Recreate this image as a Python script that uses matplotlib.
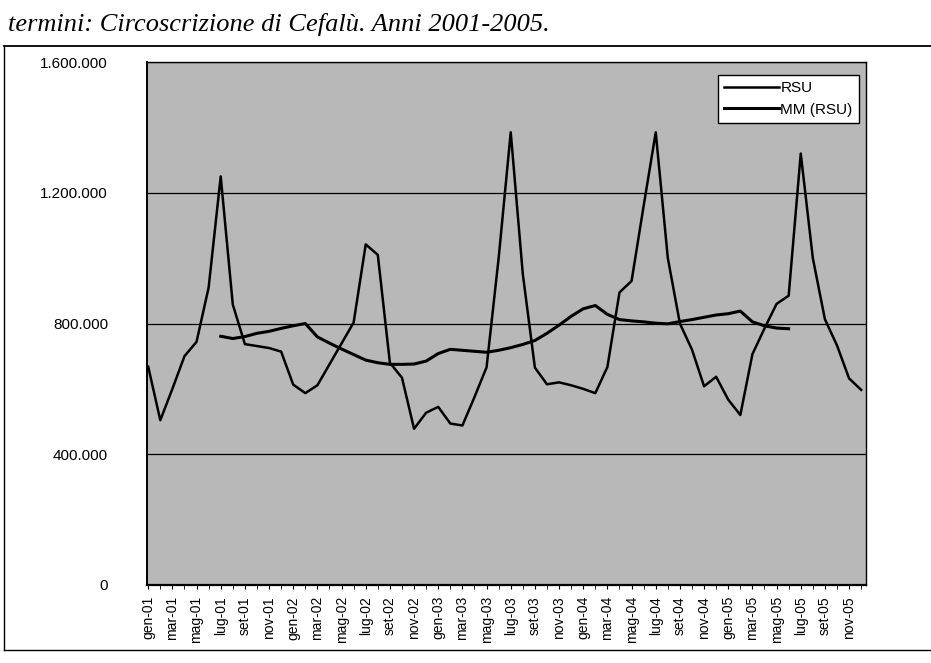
import numpy as np
import matplotlib
matplotlib.use('Agg')
import matplotlib.pyplot as plt
from matplotlib.lines import Line2D
from matplotlib.ticker import FuncFormatter

# month labels (Italian) gen-01 ... dic-05
months = ['gen', 'feb', 'mar', 'apr', 'mag', 'giu', 'lug', 'ago', 'set', 'ott', 'nov', 'dic']
years = ['01', '02', '03', '04', '05']
labels = [f"{m}-{y}" for y in years for m in months]

# RSU monthly values (kg)
rsu_2001 = [668000, 504000, 600000, 700000, 744000, 910000, 1250000, 858000, 737000, 731000, 725000, 714000]
rsu_2002 = [613000, 587000, 611000, 675000, 739000, 803000, 1042000, 1010000, 680000, 634000, 478000, 527000]
rsu_2003 = [545000, 494000, 488000, 575000, 666000, 1000000, 1385000, 951000, 665000, 614000, 620000, 611000]
rsu_2004 = [600000, 587000, 667000, 895000, 930000, 1160000, 1385000, 1000000, 800000, 720000, 608000, 637000]
rsu_2005 = [567000, 520000, 706000, 785000, 860000, 885000, 1320000, 1000000, 813000, 733000, 632000, 597000]
rsu = rsu_2001 + rsu_2002 + rsu_2003 + rsu_2004 + rsu_2005

# moving average MM (RSU), from lug-01 to giu-05
mm_start = 6
mm = [761000, 754000, 760000, 770000, 776000, 785000,
      793000, 800000, 759000, 740000, 722000, 705000,
      688000, 680000, 675000, 675000, 676000, 685000,
      708000, 721000, 718000, 715000, 712000, 718000,
      726000, 736000, 748000, 770000, 795000, 822000,
      845000, 855000, 828000, 812000, 808000, 805000,
      801000, 799000, 806000, 812000, 819000, 826000,
      830000, 838000, 805000, 793000, 786000, 784000]

yticks = [0, 400000, 800000, 1200000, 1600000]

W, H = 931, 663
fig = plt.figure(figsize=(W / 100, H / 100), dpi=100)
fig.patch.set_facecolor('white')

# title fragment at the top of the scanned page
fig.text(8 / W, 1 - 31 / H, "termini: Circoscrizione di Cefalù. Anni 2001-2005.",
         family='Liberation Serif', style='italic', fontsize=19, va='baseline', ha='left')

# chart area border
fig.add_artist(Line2D([4 / W, 1.0], [1 - 46 / H] * 2, transform=fig.transFigure, color='black', lw=1.3))
fig.add_artist(Line2D([4 / W] * 2, [1 - 46 / H, 1 - 650 / H], transform=fig.transFigure, color='black', lw=1.0))
fig.add_artist(Line2D([4 / W, 1.0], [1 - 650 / H] * 2, transform=fig.transFigure, color='black', lw=1.0))

ax = fig.add_axes([147 / W, 1 - 585 / H, 719 / W, 523 / H])
ax.set_facecolor('#b8b8b8')

x = np.arange(len(rsu))
ax.plot(x, rsu, color='black', lw=1.8, label='RSU', zorder=3)
ax.plot(np.arange(mm_start, mm_start + len(mm)), mm, color='black', lw=2.2, label='MM (RSU)', zorder=3)

ax.set_xlim(-0.1, 59.4)
ax.set_ylim(0, 1600000)
ax.set_yticks(yticks)
ax.yaxis.set_major_formatter(FuncFormatter(lambda v, p: f"{int(v):,}".replace(',', '.')))
ax.grid(axis='y', color='black', lw=0.9)
ax.set_axisbelow(True)

ax.set_xticks(x[::2])
ax.set_xticklabels(labels[::2], rotation=90)
ax.set_xticks(x, minor=True)

for lab in ax.get_xticklabels() + ax.get_yticklabels():
    lab.set_family('Liberation Sans')
ax.tick_params(axis='y', length=0, pad=28, labelsize=11)
ax.tick_params(axis='x', which='both', length=3, direction='out', pad=5, labelsize=10)

for s in ax.spines.values():
    s.set_color('black')
    s.set_linewidth(1.0)
ax.spines['bottom'].set_linewidth(1.6)
ax.spines['left'].set_linewidth(1.4)

leg = ax.legend(loc='upper right', bbox_to_anchor=(0.99, 0.975), borderaxespad=0,
                frameon=True, fancybox=False, edgecolor='black', framealpha=1,
                handlelength=3.6, handletextpad=0.1, labelspacing=0.5,
                prop={'family': 'Liberation Sans', 'size': 11})
leg.get_frame().set_linewidth(1.0)

fig.savefig('out.png', dpi=100)
